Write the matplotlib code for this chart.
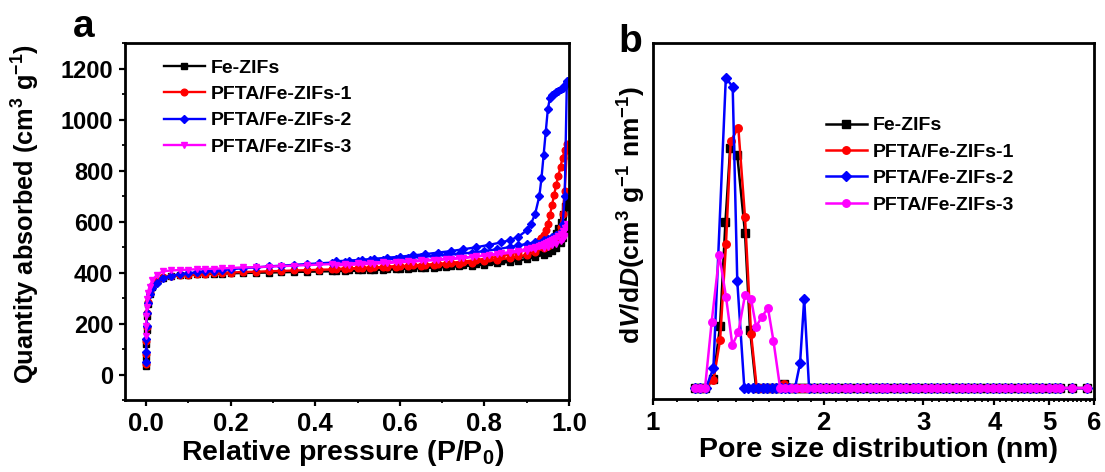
import matplotlib
matplotlib.use('Agg')
import matplotlib.pyplot as plt
from matplotlib.ticker import MultipleLocator, FixedLocator, NullFormatter

plt.rcParams['font.family'] = ['Liberation Sans', 'DejaVu Sans']
plt.rcParams['font.weight'] = 'bold'
plt.rcParams['axes.labelweight'] = 'bold'
plt.rcParams['mathtext.fontset'] = 'custom'
plt.rcParams['mathtext.rm'] = 'Liberation Sans:bold'
plt.rcParams['mathtext.it'] = 'Liberation Sans:bold:italic'
plt.rcParams['mathtext.bf'] = 'Liberation Sans:bold'
plt.rcParams['mathtext.default'] = 'regular'

labels = ['Fe-ZIFs', 'PFTA/Fe-ZIFs-1', 'PFTA/Fe-ZIFs-2', 'PFTA/Fe-ZIFs-3']
colors = ['#000000', '#FF0000', '#0000FF', '#FF00FF']

# ---- (a) N2 isotherms: adsorption and desorption branches ----
p_ads = [0.00005, 0.0002, 0.0005, 0.001, 0.002, 0.004, 0.008, 0.015, 0.025, 0.04,
         0.06, 0.08, 0.10, 0.12, 0.14, 0.16, 0.18, 0.20,
         0.23, 0.26, 0.29, 0.32, 0.35, 0.38, 0.41, 0.44, 0.47, 0.50, 0.53,
         0.56, 0.59, 0.62, 0.65, 0.68, 0.71, 0.74, 0.77, 0.80, 0.83, 0.86,
         0.88, 0.90, 0.92, 0.94, 0.95, 0.96, 0.97, 0.98, 0.985, 0.99, 0.995]
p_des = [0.995, 0.99, 0.985, 0.98, 0.975, 0.97, 0.965, 0.96, 0.955, 0.95, 0.945,
         0.94, 0.935, 0.93, 0.92, 0.91, 0.90, 0.88, 0.86, 0.84, 0.81, 0.78,
         0.75, 0.72, 0.69, 0.66, 0.63, 0.60, 0.57, 0.54, 0.51, 0.48, 0.45]

fe_ads = [35, 70, 120, 175, 230, 275, 315, 345, 365, 380,
          386, 389, 391, 393, 394, 395, 396, 397,
          398, 399, 400, 401, 402, 403, 404, 405, 406, 408, 409,
          411, 413, 415, 417, 419, 421, 424, 427, 431, 436, 442,
          447, 453, 460, 470, 476, 484, 495, 515, 535, 570, 655]
fe_des = [680, 660, 630, 600, 575, 555, 538, 525, 515, 505, 498,
          492, 487, 483, 477, 471, 466, 458, 451, 446, 440, 434,
          429, 425, 422, 419, 417, 415, 413, 411, 409, 408, 407]

f1_ads = [40, 80, 130, 185, 240, 285, 320, 348, 367, 381,
          387, 390, 392, 394, 396, 397, 399, 400,
          402, 403, 405, 406, 408, 409, 411, 412, 414, 416, 418,
          420, 422, 424, 426, 429, 432, 435, 439, 444, 450, 457,
          463, 470, 480, 495, 505, 520, 540, 580, 630, 720, 880]
f1_des = [905, 880, 850, 815, 780, 745, 705, 665, 625, 590, 565,
          548, 535, 525, 510, 500, 492, 480, 471, 464, 456, 449,
          443, 438, 434, 431, 428, 425, 423, 420, 418, 416, 414]

f2_ads = [50, 90, 140, 190, 240, 280, 315, 340, 360, 378,
          388, 393, 397, 401, 404, 407, 410, 413,
          417, 420, 424, 427, 430, 433, 436, 439, 442, 445, 448,
          451, 454, 457, 461, 465, 469, 473, 478, 484, 491, 500,
          506, 512, 519, 527, 532, 538, 546, 560, 590, 700, 1150]
f2_des = [1145, 1135, 1125, 1118, 1112, 1106, 1100, 1095, 1085, 1040, 950,
          860, 770, 700, 630, 590, 565, 540, 527, 518, 508, 499,
          491, 484, 478, 472, 467, 462, 458, 454, 450, 447, 444]

f3_ads = [150, 190, 230, 265, 295, 320, 345, 370, 390, 405,
          408, 410, 411, 413, 414, 415, 416, 418,
          420, 421, 423, 425, 427, 429, 431, 433, 435, 437, 439,
          441, 443, 445, 448, 451, 454, 457, 461, 466, 471, 477,
          481, 486, 491, 498, 502, 507, 513, 522, 530, 545, 580]
f3_des = [592, 575, 562, 552, 544, 537, 531, 526, 522, 518, 514,
          511, 508, 505, 500, 496, 492, 486, 480, 476, 469, 463,
          458, 453, 449, 446, 443, 440, 437, 435, 432, 430, 428]

# ---- (b) pore size distribution ----
fe_d = [1.185, 1.21, 1.235, 1.278, 1.313, 1.342, 1.368, 1.408, 1.453, 1.483, 1.52,
        1.55, 1.58, 1.61, 1.64, 1.67, 1.70, 1.73, 1.76, 1.79, 1.82, 1.85, 1.88]
fe_v = [0, 0, 0, 0.03, 0.20, 0.536, 0.773, 0.751, 0.50, 0.187, 0,
        0, 0, 0, 0, 0, 0.013, 0, 0, 0, 0, 0, 0]

f1_d = [1.185, 1.21, 1.235, 1.278, 1.313, 1.345, 1.371, 1.414, 1.453, 1.489, 1.524,
        1.55, 1.58, 1.61, 1.64, 1.67, 1.70, 1.73, 1.76, 1.79, 1.82, 1.85, 1.88]
f1_v = [0, 0, 0, 0.026, 0.155, 0.466, 0.796, 0.839, 0.550, 0.176, 0,
        0, 0, 0, 0, 0, 0.012, 0, 0, 0, 0, 0, 0]

f2_d = [1.185, 1.21, 1.24, 1.278, 1.344, 1.382, 1.408, 1.449, 1.47, 1.50, 1.53,
        1.56, 1.59, 1.62, 1.65, 1.68, 1.71, 1.74, 1.78, 1.817, 1.848, 1.885]
f2_v = [0, 0, 0, 0.065, 1.0, 0.971, 0.345, 0, 0, 0, 0,
        0, 0, 0, 0, 0, 0, 0, 0, 0.080, 0.287, 0]

f3_d = [1.185, 1.21, 1.235, 1.269, 1.309, 1.345, 1.380, 1.414, 1.453, 1.489, 1.52,
        1.556, 1.595, 1.631, 1.676, 1.71, 1.75, 1.79, 1.83, 1.87]
f3_v = [0, 0, 0, 0.214, 0.429, 0.294, 0.139, 0.180, 0.300, 0.287, 0.198,
        0.23, 0.258, 0.152, 0, 0, 0, 0, 0, 0]

tail_d = [1.92, 1.97, 2.02, 2.07, 2.12, 2.18, 2.23, 2.29, 2.35, 2.41, 2.47,
          2.53, 2.59, 2.66, 2.73, 2.80, 2.87, 2.94, 3.02, 3.09, 3.17, 3.25,
          3.33, 3.42, 3.51, 3.60, 3.69, 3.78, 3.88, 3.98, 4.08, 4.18, 4.29,
          4.40, 4.51, 4.63, 4.74, 4.86, 4.99, 5.12, 5.23, 5.48, 5.83]
tail_v = [0, 0, 0, 0, 0, 0, 0, 0, 0, 0, 0,
          0, 0, 0, 0, 0, 0, 0, 0, 0, 0, 0,
          0, 0, 0, 0, 0, 0, 0, 0, 0, 0, 0,
          0, 0, 0, 0, 0, 0, 0, 0, 0, 0]

iso = [(fe_ads, fe_des), (f1_ads, f1_des), (f2_ads, f2_des), (f3_ads, f3_des)]
psd = [(fe_d, fe_v), (f1_d, f1_v), (f2_d, f2_v), (f3_d, f3_v)]
markers_a = ['s', 'o', 'D', 'v']
markers_b = ['s', 'o', 'D', 'o']

fig = plt.figure(figsize=(11.05, 4.72), dpi=100)
ax1 = fig.add_axes([0.1131, 0.1525, 0.4018, 0.7564])
ax2 = fig.add_axes([0.5910, 0.1547, 0.3991, 0.7548])

for (ads, des), lab, c, m in zip(iso, labels, colors, markers_a):
    ms = 4.2 if m == 'D' else 4.8
    ax1.plot(p_ads + p_des, ads + des, color=c, marker=m, markersize=ms,
             linewidth=1.7, label=lab)

for (d, v), lab, c, m in zip(psd, labels, colors, markers_b):
    ms = 5.0 if m == 'D' else 5.4
    ax2.plot(d + tail_d, v + tail_v, color=c, marker=m, markersize=ms,
             linewidth=1.8, label=lab)

for ax in (ax1, ax2):
    for sp in ax.spines.values():
        sp.set_linewidth(2.0)
    ax.tick_params(which='major', direction='out', length=4.5, width=1.6, pad=4)
    ax.tick_params(which='minor', direction='out', length=2.5, width=1.3)
    ax.tick_params(axis='x', labelsize=18.5)
    ax.tick_params(axis='y', labelsize=17)

ax1.set_xlim(-0.05, 1.0)
ax1.set_ylim(-100, 1300)
ax1.xaxis.set_major_locator(MultipleLocator(0.2))
ax1.xaxis.set_minor_locator(MultipleLocator(0.1))
ax1.yaxis.set_major_locator(MultipleLocator(200))
ax1.yaxis.set_minor_locator(MultipleLocator(100))
ax1.set_xlabel('Relative pressure (P/P$_0$)', fontsize=20.5)
ax1.set_ylabel('Quantity absorbed (cm$^3$ g$^{-1}$)', fontsize=18.3)
ax1.xaxis.set_label_coords(0.49, -0.106)
ax1.yaxis.set_label_coords(-0.187, 0.52)
ax1.legend(loc='upper left', bbox_to_anchor=(0.088, 0.955), frameon=False,
           fontsize=14, handlelength=2.1, handletextpad=0.3,
           labelspacing=0.45, borderpad=0, borderaxespad=0)

ax2.set_xscale('log')
ax2.set_xlim(1, 6)
ax2.set_ylim(-0.035, 1.113)
ax2.xaxis.set_major_locator(FixedLocator([1, 2, 3, 4, 5, 6]))
ax2.set_xticklabels(['1', '2', '3', '4', '5', '6'])
minor_pos = [i + k / 10 for i in range(1, 6) for k in range(1, 10)]
ax2.xaxis.set_minor_locator(FixedLocator(minor_pos))
ax2.xaxis.set_minor_formatter(NullFormatter())
ax2.set_yticks([])
ax2.set_xlabel('Pore size distribution (nm)', fontsize=20.5)
ax2.set_ylabel(r'd$\mathit{V}$/d$\mathit{D}$(cm$^3$ g$^{-1}$ nm$^{-1}$)', fontsize=19)
ax2.xaxis.set_label_coords(0.512, -0.107)
ax2.yaxis.set_label_coords(-0.011, 0.517)
ax2.legend(loc='upper left', bbox_to_anchor=(0.392, 0.792), frameon=False,
           fontsize=14, handlelength=2.1, handletextpad=0.3,
           labelspacing=0.45, borderpad=0, borderaxespad=0)

fig.text(84 / 1105, 1 - 37 / 472, 'a', fontsize=28, ha='center', va='baseline')
fig.text(630 / 1105, 1 - 52 / 472, 'b', fontsize=28, ha='center', va='baseline')

fig.savefig('out.png', dpi=100)
